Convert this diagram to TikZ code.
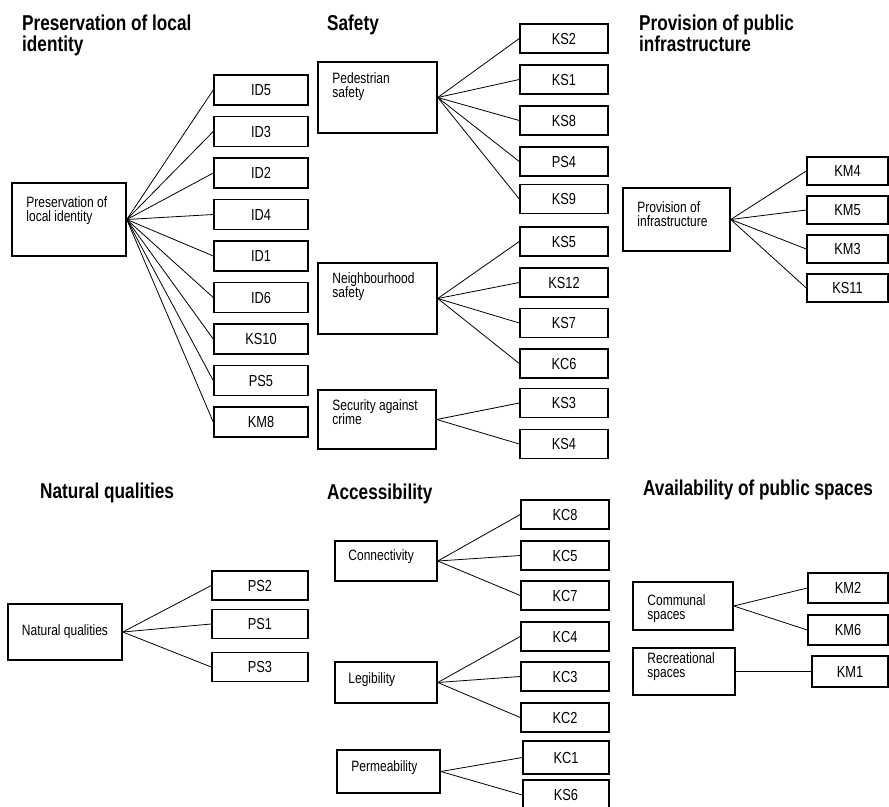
\documentclass[tikz,border=0pt]{standalone}
\usepackage{fontspec}
\setmainfont{Liberation Sans}[FakeStretch=0.8]
\usepackage{tikz}
\usetikzlibrary{positioning}
\newcommand{\boxfont}{\fontsize{15}{14.5}\selectfont}
\newcommand{\leaffont}{\fontsize{16}{16}\selectfont}
\newcommand{\titlefont}{\fontsize{21.5}{21}\selectfont\bfseries}

\begin{document}
\begin{tikzpicture}[x=1pt, y=-1pt]
		\tikzset{parent/.style 2 args={draw=black, line width=1.5pt, minimum width=#1, minimum height=#2, inner sep=0}}
		\tikzset{leaf/.style={draw=black, line width=1.5pt, minimum width=#1, minimum height=29, inner sep=0, font=\leaffont}}
		\tikzset{ptext/.style={anchor=north west, align=left, font=\boxfont, inner xsep=15pt, inner ysep=11pt}}
		\tikzset{title/.style={anchor=north west, align=left, font=\titlefont, inner sep=0}}
		\tikzset{link/.style={draw=black, line width=0.8pt}}
		\useasboundingbox (0,0) rectangle (889,806);

		% titles
		\node[title] (t1) at (22,15) {Preservation of local\\identity};
		\node[title] (t2) at (327,15) {Safety};
		\node[title] (t3) at (639,15) {Provision of public\\infrastructure};
		\node[title] (t4) at (40,483) {Natural qualities};
		\node[title] (t5) at (327,484) {Accessibility};
		\node[title] (t6) at (643,480) {Availability of public spaces};

		% preservation of local identity
		\node[parent={114}{73}] (pli) at (69,219.5) {};
		\node[ptext, yshift=-3pt] (plitext) at (pli.north west) {Preservation of\\local identity};
		\node[leaf=94, minimum height=30] (id5) at (261,90) {ID5};
		\node[leaf=94, minimum height=30, below=10pt of id5] (id3) {ID3};
		\node[leaf=94, minimum height=30, below=10pt of id3] (id2) {ID2};
		\node[leaf=94, minimum height=30, below=10pt of id2] (id4) {ID4};
		\node[leaf=94, minimum height=30, below=10pt of id4] (id1) {ID1};
		\node[leaf=94, minimum height=30, below=10pt of id1] (id6) {ID6};
		\node[leaf=94, minimum height=30, below=10pt of id6] (ks10) {KS10};
		\node[leaf=94, minimum height=30, below=10pt of ks10] (ps5) {PS5};
		\node[leaf=94, minimum height=30, below=10pt of ps5] (km8) {KM8};
		\path (pli.east) edge[link] (id5.west) edge[link] (id3.west) edge[link] (id2.west)
			edge[link] (id4.west) edge[link] (id1.west) edge[link] (id6.west)
			edge[link] (ks10.west) edge[link] (ps5.west) edge[link] (km8.west);

		% safety
		\node[parent={119}{71}] (ped) at (377.5,97.5) {};
		\node[ptext] (pedtext) at (ped.north west) {Pedestrian\\safety};
		\node[parent={119}{71}] (nbh) at (377.5,298.5) {};
		\node[ptext, yshift=1pt] (nbhtext) at (nbh.north west) {Neighbourhood\\safety};
		\node[parent={118}{59}] (sec) at (377,419.5) {};
		\node[ptext, yshift=1pt] (sectext) at (sec.north west) {Security against\\crime};
		\node[leaf=88] (ks2) at (564,38.5) {KS2};
		\node[leaf=88] (ks1) at (564,79.5) {KS1};
		\node[leaf=88] (ks8) at (564,120.5) {KS8};
		\node[leaf=88] (ps4) at (564,161.5) {PS4};
		\node[leaf=88] (ks9) at (564,199) {KS9};
		\node[leaf=88] (ks5) at (564,241.5) {KS5};
		\node[leaf=88] (ks12) at (564,282.5) {KS12};
		\node[leaf=88] (ks7) at (564,323) {KS7};
		\node[leaf=88] (kc6) at (564,363.5) {KC6};
		\node[leaf=88] (ks3) at (564,403) {KS3};
		\node[leaf=88] (ks4) at (564,444) {KS4};
		\path (ped.east) edge[link] (ks2.west) edge[link] (ks1.west) edge[link] (ks8.west)
			edge[link] (ps4.west) edge[link] (ks9.west);
		\path (nbh.east) edge[link] (ks5.west) edge[link] (ks12.west) edge[link] (ks7.west)
			edge[link] (kc6.west);
		\path (sec.east) edge[link] (ks3.west) edge[link] (ks4.west);

		% provision of public infrastructure
		\node[parent={107}{63}] (pinf) at (676.5,219.5) {};
		\node[ptext, yshift=-3pt] (pinftext) at (pinf.north west) {Provision of\\infrastructure};
		\node[leaf=81, minimum height=28] (km4) at (847.5,171) {KM4};
		\node[leaf=81, minimum height=28] (km5) at (847.5,210) {KM5};
		\node[leaf=81, minimum height=28] (km3) at (847.5,249) {KM3};
		\node[leaf=81, minimum height=28] (ks11) at (847.5,288) {KS11};
		\path (pinf.east) edge[link] (km4.west) edge[link] (km5.west) edge[link] (km3.west)
			edge[link] (ks11.west);

		% natural qualities
		\node[parent={114}{56}, font=\boxfont] (nat) at (65,632) {Natural qualities};
		\node[leaf=96] (ps2) at (260,585.5) {PS2};
		\node[leaf=96] (ps1) at (260,624) {PS1};
		\node[leaf=96] (ps3) at (260,667) {PS3};
		\path (nat.east) edge[link] (ps2.west) edge[link] (ps1.west) edge[link] (ps3.west);

		% accessibility
		\node[parent={102}{40}] (con) at (386,561) {};
		\node[ptext, anchor=west, inner xsep=14pt, yshift=4pt] (context) at (con.west) {Connectivity};
		\node[parent={102}{41}] (leg) at (386,682.5) {};
		\node[ptext, anchor=west, inner xsep=14pt, yshift=3pt] (legtext) at (leg.west) {Legibility};
		\node[parent={103}{43}] (perm) at (388.5,771.5) {};
		\node[ptext, anchor=west, inner xsep=15pt, yshift=4pt] (permtext) at (perm.west) {Permeability};
		\node[leaf=88] (kc8) at (565,514.5) {KC8};
		\node[leaf=88] (kc5) at (565,555.5) {KC5};
		\node[leaf=88] (kc7) at (565,595.5) {KC7};
		\node[leaf=88] (kc4) at (565,636.5) {KC4};
		\node[leaf=88] (kc3) at (565,676.5) {KC3};
		\node[leaf=88] (kc2) at (565,717.5) {KC2};
		\node[leaf=86, minimum height=33] (kc1) at (566,757.5) {KC1};
		\node[leaf=86, minimum height=30] (ks6) at (566,795) {KS6};
		\path (con.east) edge[link] (kc8.west) edge[link] (kc5.west) edge[link] (kc7.west);
		\path (leg.east) edge[link] (kc4.west) edge[link] (kc3.west) edge[link] (kc2.west);
		\path (perm.east) edge[link] (kc1.west) edge[link] (ks6.west);

		% availability of public spaces
		\node[parent={100}{48}] (com) at (683,606) {};
		\node[ptext, yshift=-2pt] (comtext) at (com.north west) {Communal\\spaces};
		\node[parent={102}{47}] (rec) at (684,671.5) {};
		\node[ptext, yshift=6pt] (rectext) at (rec.north west) {Recreational\\spaces};
		\node[leaf=80, minimum height=30] (km2) at (848,588) {KM2};
		\node[leaf=80, minimum height=30] (km6) at (848,630) {KM6};
		\node[leaf=76, minimum height=31] (km1) at (850,671.5) {KM1};
		\path (com.east) edge[link] (km2.west) edge[link] (km6.west);
		\path (rec.east) edge[link] (km1.west);

	\end{tikzpicture}
\end{document}
